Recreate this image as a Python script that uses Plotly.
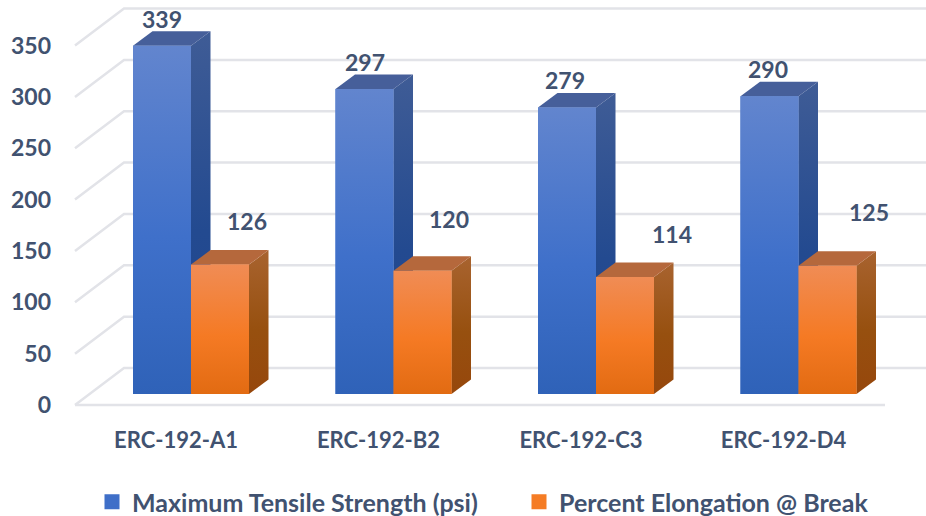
import plotly.graph_objects as go

categories = ["ERC-192-A1", "ERC-192-B2", "ERC-192-C3", "ERC-192-D4"]
tensile = [339, 297, 279, 290]
elongation = [126, 120, 114, 125]
tick_values = [0, 50, 100, 150, 200, 250, 300, 350]
series_names = ["Maximum Tensile Strength (psi)", "Percent Elongation @ Break"]

W, H = 926, 516
L, R, T, B = 60, 0, 0, 91
PX_PER_CAT = 202.5
X0_PX = 191
PX_PER_UNIT = 1.027
BAR_ZERO_PX = 394
TICK_ZERO_PX = 405
plot_bottom = H - B

x_range = [(L - X0_PX) / PX_PER_CAT, (W - R - X0_PX) / PX_PER_CAT]
bar_range = [(BAR_ZERO_PX - plot_bottom) / PX_PER_UNIT, (BAR_ZERO_PX - T) / PX_PER_UNIT]
tick_range = [(TICK_ZERO_PX - plot_bottom) / PX_PER_UNIT, (TICK_ZERO_PX - T) / PX_PER_UNIT]

bar_w = 58 / PX_PER_CAT
dx = 19.5 / PX_PER_CAT
dy = 14.5 / PX_PER_UNIT
wall_dx = 49 / PX_PER_CAT
wall_dy = 37 / PX_PER_UNIT
grid_start = (75 - X0_PX) / PX_PER_CAT
grid_floor_end = (885 - X0_PX) / PX_PER_CAT
INK = "#415270"
GRID = "#E2E3E8"

styles = [
    dict(solid="#3F6FC8",
         front=[[0, "#6285CE"], [0.55, "#3F70CA"], [1, "#2F62B8"]],
         side=[[0, "#3F5C96"], [0.55, "#234A90"], [1, "#1F4590"]],
         top="#465F9A"),
    dict(solid="#F57C25",
         front=[[0, "#F08C55"], [0.55, "#F57A24"], [1, "#E26B12"]],
         side=[[0, "#A8632F"], [0.55, "#97500F"], [1, "#96470C"]],
         top="#B5683C"),
]

fig = go.Figure()

gx, gy = [], []
for v in tick_values:
    gx += [grid_start, grid_start + wall_dx, x_range[1], None]
    gy += [v, v + wall_dy, v + wall_dy, None]
gx += [grid_start, grid_floor_end]
gy += [0, 0]
fig.add_trace(go.Scatter(x=gx, y=gy, mode="lines", line=dict(color=GRID, width=2.5),
                         showlegend=False, hoverinfo="skip"))

series = [tensile, elongation]
offsets = [-bar_w, 0]

for s, (vals, off, st, name) in enumerate(zip(series, offsets, styles, series_names)):
    fig.add_trace(go.Bar(x=[i + off + bar_w / 2 for i in range(len(vals))], y=vals, width=bar_w,
                         marker=dict(color=st["solid"], line=dict(width=0)),
                         showlegend=False, name=name, yaxis="y2"))

for i in range(len(categories)):
    for vals, off, st in zip(series, offsets, styles):
        v = vals[i]
        x0, x1 = i + off, i + off + bar_w
        fig.add_trace(go.Scatter(
            x=[x1, x1 + dx, x1 + dx, x1, x1], y=[0, dy, v + dy, v, 0],
            mode="lines", line=dict(width=0), fill="toself", yaxis="y2",
            fillgradient=dict(type="vertical", colorscale=st["side"], start=v + dy, stop=0),
            showlegend=False, hoverinfo="skip"))
        fig.add_trace(go.Scatter(
            x=[x0, x0 + dx, x1 + dx, x1, x0], y=[v, v + dy, v + dy, v, v],
            mode="lines", line=dict(width=0), fill="toself", fillcolor=st["top"], yaxis="y2",
            showlegend=False, hoverinfo="skip"))
        fig.add_trace(go.Scatter(
            x=[x0, x1, x1, x0, x0], y=[0, 0, v, v, 0],
            mode="lines", line=dict(width=0), fill="toself", yaxis="y2",
            fillgradient=dict(type="vertical", colorscale=st["front"], start=v, stop=0),
            showlegend=False, hoverinfo="skip"))

for st, name in zip(styles, series_names):
    fig.add_trace(go.Bar(x=[None], y=[None], name=name, yaxis="y2",
                         marker=dict(color=st["solid"], line=dict(color=st["solid"], width=3))))

label_shift = {
    0: [(0, 27), (27, 44)],
    1: [(0, 27), (26, 52)],
    2: [(-2, 27), (47, 43)],
    3: [(-2, 27), (41, 54)],
}
annotations = []
for i in range(len(categories)):
    for s, (vals, off) in enumerate(zip(series, offsets)):
        sx, sy = label_shift[i][s]
        annotations.append(dict(x=i + off + bar_w / 2, y=vals[i], yref="y2", xref="x",
                                text=str(vals[i]), showarrow=False, xshift=sx, yshift=sy,
                                yanchor="middle", xanchor="center",
                                font=dict(family="Lato", size=23, color=INK, weight=700)))

fig.update_layout(
    width=W, height=H,
    margin=dict(l=L, r=R, t=T, b=B, autoexpand=False),
    paper_bgcolor="white", plot_bgcolor="white",
    barmode="overlay",
    annotations=annotations,
    xaxis=dict(range=x_range, showgrid=False, zeroline=False, showline=False, ticks="",
               tickvals=[i - 15 / PX_PER_CAT for i in range(len(categories))],
               ticktext=categories, ticklabelstandoff=0,
               tickfont=dict(family="Lato", size=22, color=INK, weight=700)),
    yaxis=dict(range=tick_range, tickvals=tick_values, showgrid=False, zeroline=False,
               showline=False, ticks="", ticklabelstandoff=8,
               tickfont=dict(family="Lato", size=23, color=INK, weight=700)),
    yaxis2=dict(range=bar_range, overlaying="y", visible=False),
    legend=dict(orientation="h", x=(92 - L) / (W - L), xanchor="left",
                y=(plot_bottom - 502) / (plot_bottom - T), yanchor="middle",
                entrywidth=382, entrywidthmode="pixels", traceorder="normal",
                font=dict(family="Lato", size=25, color=INK, weight=700),
                bgcolor="rgba(0,0,0,0)"),
)

fig.write_html("out.html", config=dict(displayModeBar=False),
               post_script="document.body.style.margin='0';")
